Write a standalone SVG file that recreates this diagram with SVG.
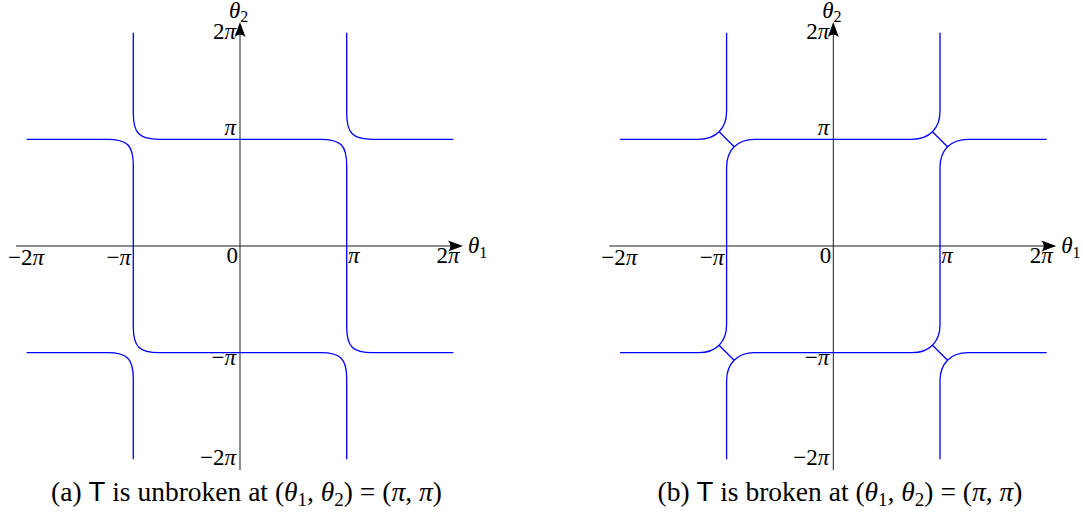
<svg xmlns="http://www.w3.org/2000/svg" width="1083" height="513" viewBox="0 0 1083 513">
<style>
.ax{stroke:#1a1a1a;stroke-width:1;fill:none}
.cv{stroke:#0000ff;stroke-width:1.3;fill:none}
.lb{font-family:"Liberation Serif","DejaVu Serif",serif;font-size:23px;fill:#000}
.cap{font-family:"Liberation Serif","DejaVu Serif",serif;font-size:27.5px;fill:#000}
.it{font-style:italic}
.sf{font-family:"Liberation Sans","DejaVu Sans",sans-serif}
.sb{font-size:16px}
.sc{font-size:19px}
</style>
<defs>
<path id="arr" d="M0,0 L-15,-5.5 Q-10,0 -15,5.5 Z" fill="#000"/>
</defs>

<g id="panel-a">
<g id="axes-a">
<line class="ax" x1="16" y1="246" x2="456" y2="246"/>
<line class="ax" x1="240" y1="470" x2="240" y2="30"/>
<use href="#arr" transform="translate(463,246)"/>
<use href="#arr" transform="translate(240,22) rotate(-90)"/>
</g>
<g id="curves-a">
<path class="cv" d="M133.3,32.7 L133.3,113.3 C133.3,133.3 139.3,139.3 159.3,139.3 L320.7,139.3 C340.7,139.3 346.7,145.3 346.7,165.3 L346.7,326.7 C346.7,346.7 352.7,352.7 372.7,352.7 L453.3,352.7"/>
<path class="cv" d="M26.7,139.3 L107.3,139.3 C127.3,139.3 133.3,145.3 133.3,165.3 L133.3,326.7 C133.3,346.7 139.3,352.7 159.3,352.7 L320.7,352.7 C340.7,352.7 346.7,358.7 346.7,378.7 L346.7,459.3"/>
<path class="cv" d="M346.7,32.7 L346.7,113.3 C346.7,133.3 352.7,139.3 372.7,139.3 L453.3,139.3"/>
<path class="cv" d="M26.7,352.7 L107.3,352.7 C127.3,352.7 133.3,358.7 133.3,378.7 L133.3,459.3"/>
</g>
<g id="labels-a">
<text class="lb" x="26" y="265" text-anchor="middle">−2<tspan class="it">π</tspan></text>
<text class="lb" x="131" y="265" text-anchor="end">−<tspan class="it">π</tspan></text>
<text class="lb" x="238" y="263" text-anchor="end">0</text>
<text class="lb it" x="348" y="263">π</text>
<text class="lb" x="448" y="263" text-anchor="middle">2<tspan class="it">π</tspan></text>
<text class="lb" x="468" y="253"><tspan class="it">θ</tspan><tspan class="sb" dy="5">1</tspan></text>
<text class="lb" x="236" y="39" text-anchor="end">2<tspan class="it">π</tspan></text>
<text class="lb it" x="236" y="135" text-anchor="end">π</text>
<text class="lb" x="236" y="365" text-anchor="end">−<tspan class="it">π</tspan></text>
<text class="lb" x="236" y="465" text-anchor="end">−2<tspan class="it">π</tspan></text>
<text class="lb" x="229" y="18"><tspan class="it">θ</tspan><tspan class="sb" dy="4">2</tspan></text>
</g>
<text class="cap" x="246.5" y="501" text-anchor="middle">(a) <tspan class="sf">T</tspan> is unbroken at (<tspan class="it">θ</tspan><tspan class="sc" dy="5">1</tspan><tspan dy="-5">, </tspan><tspan class="it">θ</tspan><tspan class="sc" dy="5">2</tspan><tspan dy="-5">) = (</tspan><tspan class="it">π</tspan>, <tspan class="it">π</tspan>)</text>
</g>

<g id="panel-b">
<g id="axes-b">
<line class="ax" x1="609.3" y1="246" x2="1049" y2="246"/>
<line class="ax" x1="833.3" y1="470" x2="833.3" y2="30"/>
<use href="#arr" transform="translate(1056.3,246)"/>
<use href="#arr" transform="translate(833.3,22) rotate(-90)"/>
</g>
<g id="curves-b">
<path class="cv" d="M726.6,32.7 L726.6,111.3 C726.6,128.6 715.9,139.3 698.6,139.3 L620,139.3"/>
<path class="cv" d="M940,32.7 L940,111.3 C940,128.6 929.3,139.3 912,139.3 L754.6,139.3 C737.3,139.3 726.6,150 726.6,167.3 L726.6,324.7 C726.6,342 715.9,352.7 698.6,352.7 L620,352.7"/>
<path class="cv" d="M1046.6,139.3 L968,139.3 C950.7,139.3 940,150 940,167.3 L940,324.7 C940,342 929.3,352.7 912,352.7 L754.6,352.7 C737.3,352.7 726.6,363.4 726.6,380.7 L726.6,459.3"/>
<path class="cv" d="M1046.6,352.7 L968,352.7 C950.7,352.7 940,363.4 940,380.7 L940,459.3"/>
<path class="cv" d="M719.1,131.8 L734.1,146.8 M932.5,131.8 L947.5,146.8 M719.1,345.2 L734.1,360.2 M932.5,345.2 L947.5,360.2"/>
</g>
<g id="labels-b">
<text class="lb" x="619.3" y="265" text-anchor="middle">−2<tspan class="it">π</tspan></text>
<text class="lb" x="724.3" y="265" text-anchor="end">−<tspan class="it">π</tspan></text>
<text class="lb" x="831.3" y="263" text-anchor="end">0</text>
<text class="lb it" x="941.3" y="263">π</text>
<text class="lb" x="1041.3" y="263" text-anchor="middle">2<tspan class="it">π</tspan></text>
<text class="lb" x="1061.3" y="253"><tspan class="it">θ</tspan><tspan class="sb" dy="5">1</tspan></text>
<text class="lb" x="829.3" y="39" text-anchor="end">2<tspan class="it">π</tspan></text>
<text class="lb it" x="829.3" y="135" text-anchor="end">π</text>
<text class="lb" x="829.3" y="365" text-anchor="end">−<tspan class="it">π</tspan></text>
<text class="lb" x="829.3" y="465" text-anchor="end">−2<tspan class="it">π</tspan></text>
<text class="lb" x="822.3" y="18"><tspan class="it">θ</tspan><tspan class="sb" dy="4">2</tspan></text>
</g>
<text class="cap" x="840" y="501" text-anchor="middle">(b) <tspan class="sf">T</tspan> is broken at (<tspan class="it">θ</tspan><tspan class="sc" dy="5">1</tspan><tspan dy="-5">, </tspan><tspan class="it">θ</tspan><tspan class="sc" dy="5">2</tspan><tspan dy="-5">) = (</tspan><tspan class="it">π</tspan>, <tspan class="it">π</tspan>)</text>
</g>
</svg>
